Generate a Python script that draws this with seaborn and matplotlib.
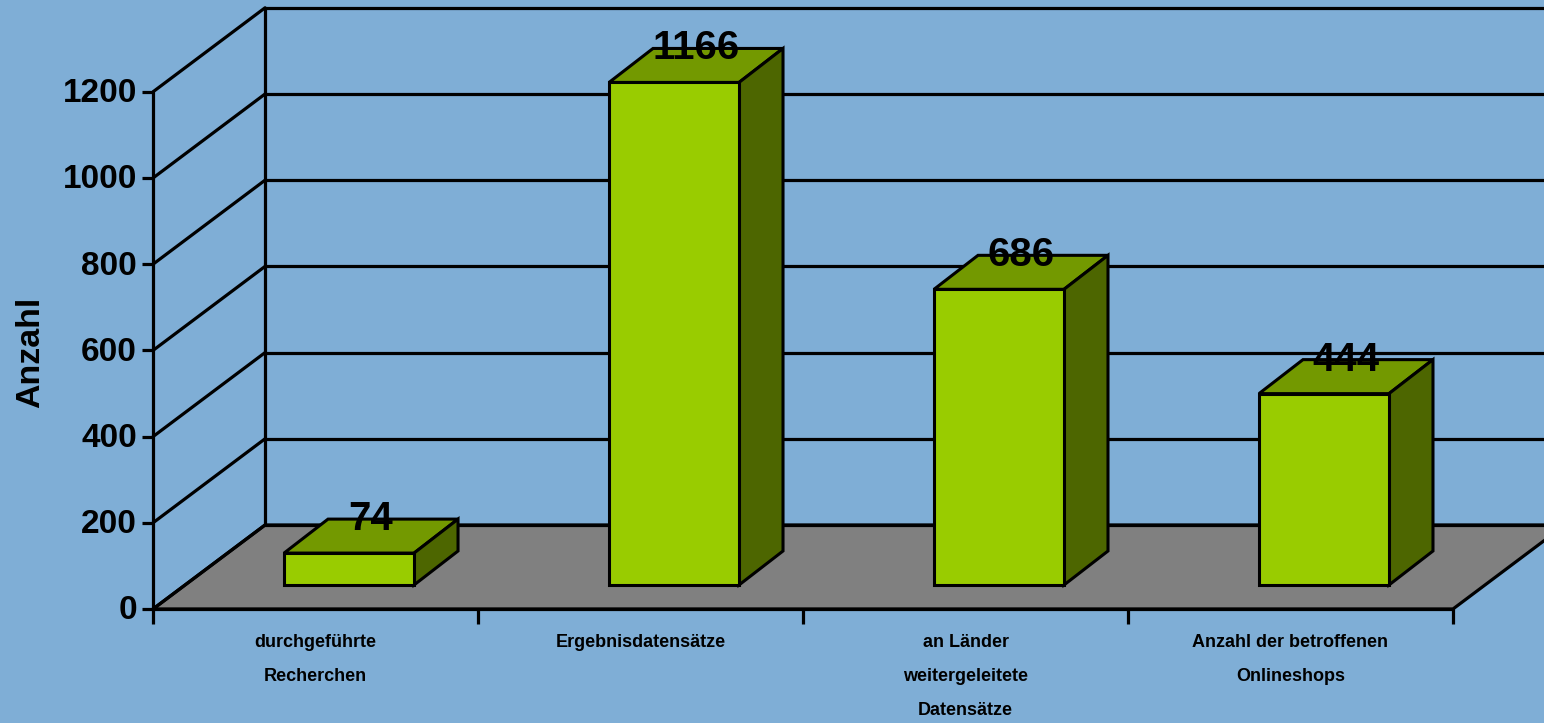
import pandas as pd
import matplotlib.pyplot as plt
from matplotlib.patches import Polygon
from matplotlib.lines import TICKLEFT, TICKDOWN
import seaborn as sns

# data
categories = ["durchgeführte\nRecherchen", "Ergebnisdatensätze",
              "an Länder\nweitergeleitete\nDatensätze",
              "Anzahl der betroffenen\nOnlineshops"]
values = [74, 1166, 686, 444]
y_ticks = [0, 200, 400, 600, 800, 1000, 1200]

BG = "#7FAED6"
FRONT = "#99CC00"
TOP = "#739900"
SIDE = "#4D6600"
FLOOR = "#808080"

sns.set_theme(style="white")
plt.rcParams["font.family"] = ["Liberation Sans", "DejaVu Sans"]
plt.rcParams["font.weight"] = "bold"

W, H = 1544, 723
fig = plt.figure(figsize=(W / 100, H / 100), dpi=100, facecolor=BG)
ax = fig.add_axes([0, 0, 1, 1])
ax.set_facecolor(BG)

df = pd.DataFrame({"cat": categories, "val": values})
sns.barplot(data=df, x="cat", y="val", color=FRONT, saturation=1, width=0.4,
            edgecolor="black", linewidth=2.2, ax=ax, zorder=3)
bars = list(ax.patches)

ax.set_xlim(-1.074, 3.677)
ax.set_ylim(-320.2, 1357.3)
ax.axis("off")

# pixel -> data helpers for the fake 3d depth
xmin, xmax = ax.get_xlim()
ymin, ymax = ax.get_ylim()
sx = (xmax - xmin) / W
sy = (ymax - ymin) / H
LW = 2.3


def shift(x, y, dx, dy):
    return (x + dx * sx, y + dy * sy)


def front(x, y):
    return shift(x, y, -33.5, -24)


def back(x, y):
    return shift(x, y, 78.5, 60)


left, right = -0.5, len(categories) - 0.5
top_val = y_ticks[-1]

# floor
floor = Polygon([front(left, 0), front(right, 0), back(right, 0), back(left, 0)],
                closed=True, facecolor=FLOOR, edgecolor="black", lw=LW, zorder=1)
ax.add_patch(floor)

# back wall gridlines + left wall diagonals
for v in y_ticks:
    bx, by = back(left, v)
    ax.plot([bx, xmax + 1], [by, by], color="black", lw=LW, zorder=1.5)
    fx, fy = front(left, v)
    ax.plot([fx, bx], [fy, by], color="black", lw=LW, zorder=1.5)
    ax.plot([fx], [fy], marker=TICKLEFT, markersize=8, mew=LW, color="black", zorder=2)
    ax.text(*shift(fx, fy, -16, -2), f"{v}", ha="right", va="center",
            fontsize=24, fontweight="bold", color="black")

for pt in (front, back):
    x0, y0 = pt(left, 0)
    x1, y1 = pt(left, top_val)
    ax.plot([x0, x1], [y0, y1], color="black", lw=LW, zorder=1.5)

# front x axis with tick marks at category boundaries
fx0, fy0 = front(left, 0)
fx1, _ = front(right, 0)
ax.plot([fx0, fx1], [fy0, fy0], color="black", lw=LW, zorder=2)
for b in range(len(categories) + 1):
    tx, ty = front(b - 0.5, 0)
    ax.plot([tx], [ty], marker=TICKDOWN, markersize=11, mew=LW, color="black", zorder=2)

for i, lab in enumerate(categories):
    lx, ly = front(i, 0)
    ax.text(*shift(lx, ly, 0, -25), lab, ha="center", va="top", fontsize=13,
            fontweight="bold", linespacing=2.3, color="black")

# top and side faces of each bar
for p, v in zip(bars, values):
    x0 = p.get_x()
    x1 = x0 + p.get_width()
    h = p.get_height()
    top = Polygon([(x0, h), (x1, h), shift(x1, h, 44, 34), shift(x0, h, 44, 34)],
                  closed=True, facecolor=TOP, edgecolor="black", lw=2.2, zorder=2.9)
    side = Polygon([(x1, 0), (x1, h), shift(x1, h, 44, 34), shift(x1, 0, 44, 34)],
                   closed=True, facecolor=SIDE, edgecolor="black", lw=2.2, zorder=2.9)
    ax.add_patch(top)
    ax.add_patch(side)
    cx = x0 + p.get_width() / 2
    ax.text(*shift(cx, h, 22, 34), f"{v}", ha="center", va="center",
            fontsize=29, fontweight="bold", color="black", zorder=5)

fig.text(31 / W, 1 - 352 / H, "Anzahl", rotation=90, ha="center", va="center",
         fontsize=24.5, fontweight="bold", color="black")

fig.savefig("out.png", dpi=100, facecolor=BG)
